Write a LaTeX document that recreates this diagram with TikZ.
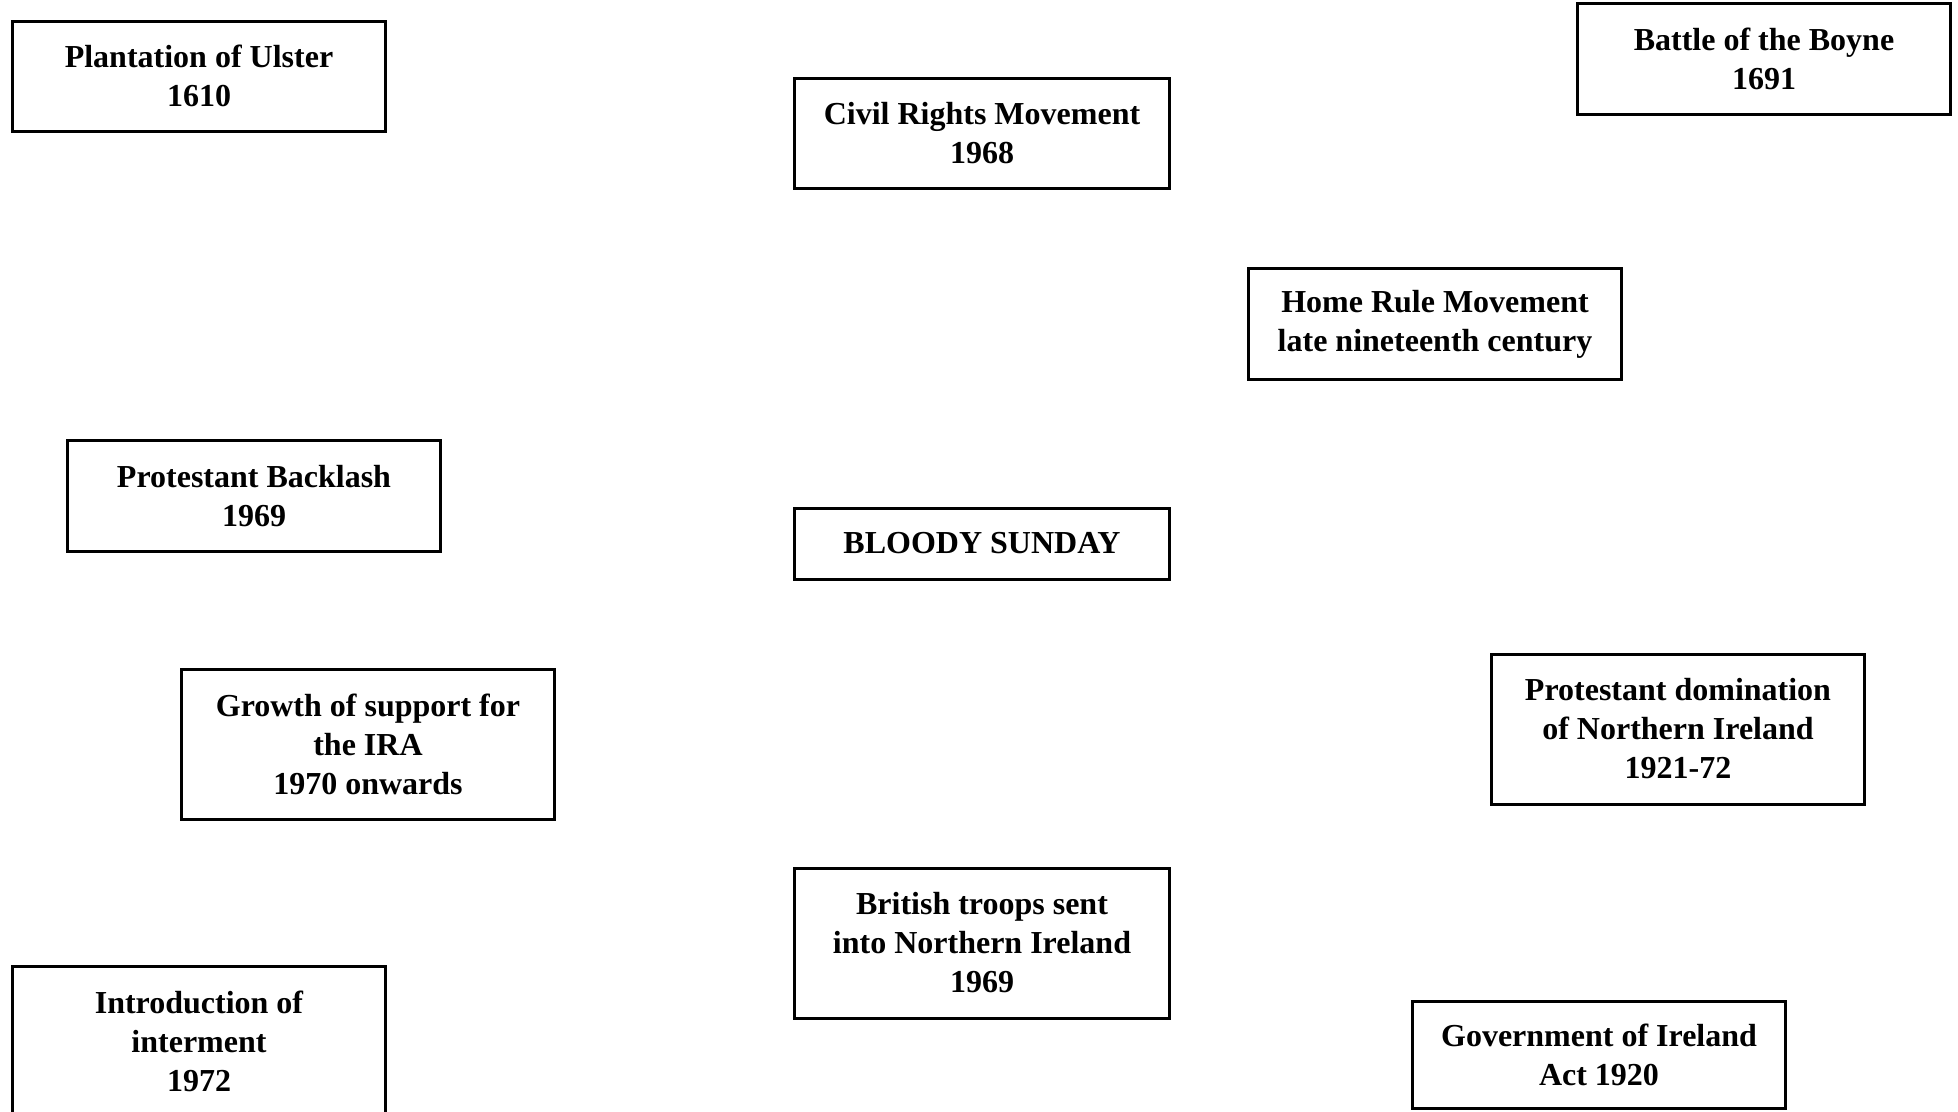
\documentclass[tikz,border=0pt]{standalone}
\usepackage{fontspec}
\setmainfont{Liberation Serif}
\begin{document}
\begin{tikzpicture}[x=1pt,y=-1pt,
  evbox/.style={draw=black, line width=3pt, fill=white, align=center,
    font=\fontsize{32}{39}\selectfont\bfseries, inner sep=0pt,
    minimum width=373pt}]
\useasboundingbox (0,0) rectangle (1958,1111);
\fill[white] (0,0) rectangle (1958,1111);
\node[evbox, minimum height=110pt] (plant) at (199,76) {Plantation of Ulster\\1610};
\node[evbox, minimum width=375pt, minimum height=110pt] (civil) at (982,133) {Civil Rights Movement\\1968};
\node[evbox, minimum height=111pt] (boyne) at (1764,59) {Battle of the Boyne\\1691};
\node[evbox, minimum height=111pt] (home) at (1435,324) {Home Rule Movement\\late nineteenth century};
\node[evbox, minimum height=111pt] (backlash) at (254,496) {Protestant Backlash\\1969};
\node[evbox, minimum width=375pt, minimum height=71pt] (bloody) at (982,543.5) {BLOODY SUNDAY};
\node[evbox, minimum height=150pt] (growth) at (368,744) {Growth of support for\\the IRA\\1970 onwards};
\node[evbox, minimum height=150pt] (domin) at (1678,729) {Protestant domination\\of Northern Ireland\\1921-72};
\node[evbox, minimum width=375pt, minimum height=150pt] (troops) at (982,943) {British troops sent\\into Northern Ireland\\1969};
\node[evbox, minimum height=150pt] (intern) at (199,1041) {Introduction of\\interment\\1972};
\node[evbox, minimum height=107pt] (gov) at (1599,1054.5) {Government of Ireland\\Act 1920};
\end{tikzpicture}
\end{document}
